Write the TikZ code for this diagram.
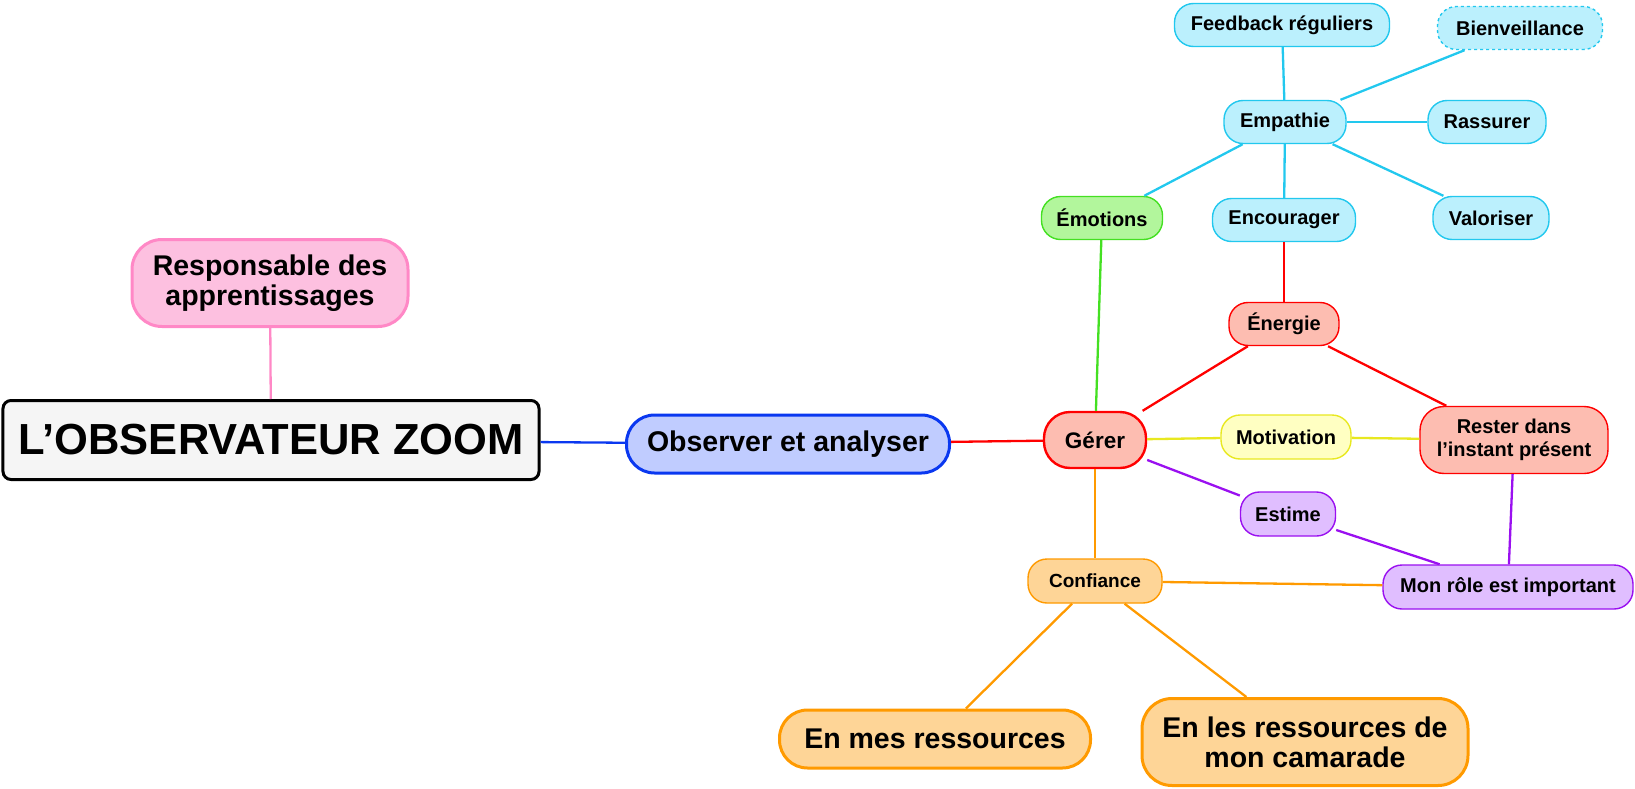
\documentclass[tikz,border=0pt]{standalone}
\usepackage{fontspec}
\setmainfont{Liberation Sans}
\begin{document}
\begin{tikzpicture}[x=1bp,y=-1bp,
  box/.style={draw, rectangle, align=center, inner sep=0pt, font=\bfseries},
  small/.style={box, line width=1.4bp, minimum height=43bp, rounded corners=19bp,
    font=\bfseries\fontsize{20bp}{23bp}\selectfont},
  big/.style={box, line width=3bp, font=\bfseries\fontsize{28.5bp}{30bp}\selectfont},
  cyanbox/.style={small, draw=cyanline, fill=cyanfill},
  redbox/.style={fill=redfill, draw=red},
  purplebox/.style={small, draw=purpleline, fill=purplefill},
  orangebox/.style={fill=orangefill, draw=orangeline},
  link/.style={line width=2.3bp}
]
\definecolor{cyanline}{HTML}{22C8EE}
\definecolor{cyanfill}{HTML}{BBF0FD}
\definecolor{redfill}{HTML}{FDBDB1}
\definecolor{purpleline}{HTML}{9A10F0}
\definecolor{purplefill}{HTML}{E0BEFF}
\definecolor{orangeline}{HTML}{FF9A00}
\definecolor{orangefill}{HTML}{FED597}
\definecolor{pinkline}{HTML}{FF88C6}
\definecolor{pinkfill}{HTML}{FDC0E0}
\definecolor{blueline}{HTML}{0A38F0}
\definecolor{bluefill}{HTML}{C0CCFF}
\definecolor{greenline}{HTML}{44E022}
\definecolor{greenfill}{HTML}{B2F69C}
\definecolor{yellowline}{HTML}{E8E820}
\definecolor{yellowfill}{HTML}{FFFFC2}
\definecolor{rootfill}{HTML}{F5F5F5}

\useasboundingbox (0,0) rectangle (1635,789);

% central topic and first level
\node[box, line width=3bp, draw=black, fill=rootfill, rounded corners=8bp,
  minimum width=536bp, minimum height=79bp,
  font=\bfseries\fontsize{43.5bp}{46bp}\selectfont] (root) at (271,440) {L’OBSERVATEUR ZOOM};
\node[big, draw=pinkline, fill=pinkfill, rounded corners=30bp,
  minimum width=276bp, minimum height=87bp] (resp) at (270,283) {Responsable des\\apprentissages};
\node[big, draw=blueline, fill=bluefill, rounded corners=28bp,
  minimum width=323bp, minimum height=58bp] (obs) at (788,444) {Observer et analyser};

% second level
\node[box, redbox, line width=2.4bp, rounded corners=26bp,
  minimum width=102bp, minimum height=56bp,
  font=\bfseries\fontsize{22.5bp}{26bp}\selectfont] (gerer) at (1095,440) {Gérer};
\node[small, draw=greenline, fill=greenfill, minimum width=121bp] (emot) at (1102,218) {Émotions};

% empathy cluster
\node[cyanbox, minimum width=122bp] (emp) at (1285,122) {Empathie};
\node[cyanbox, minimum width=215bp] (feed) at (1282,25) {Feedback réguliers};
\node[cyanbox, dashed, minimum width=165bp] (bien) at (1520,28) {Bienveillance};
\node[cyanbox, minimum width=118bp] (rass) at (1487,122) {Rassurer};
\node[cyanbox, minimum width=143bp] (enc) at (1284,220) {Encourager};
\node[cyanbox, minimum width=116bp] (valo) at (1491,218) {Valoriser};

% energy, motivation, esteem
\node[small, redbox, minimum width=110bp] (ener) at (1284,324) {Énergie};
\node[small, draw=yellowline, fill=yellowfill, minimum width=130bp, minimum height=44bp] (moti) at (1286,437) {Motivation};
\node[small, redbox, minimum width=188bp, minimum height=67bp, rounded corners=24bp] (rester) at (1514,440) {Rester dans\\l’instant présent};
\node[purplebox, minimum width=95bp, minimum height=44bp] (estime) at (1288,514) {Estime};
\node[purplebox, minimum width=250bp, minimum height=44bp] (role) at (1508,587) {Mon rôle est important};

% confidence cluster
\node[small, orangebox, minimum width=134bp, minimum height=44bp,
  font=\bfseries\fontsize{19bp}{22bp}\selectfont] (conf) at (1095,581) {Confiance};
\node[big, orangebox, rounded corners=28bp, minimum width=311bp, minimum height=58bp] (enmes) at (935,739) {En mes ressources};
\node[big, orangebox, rounded corners=30bp, minimum width=326bp, minimum height=87bp] (enles) at (1305,742) {En les ressources de\\mon camarade};

% connectors
\begin{scope}[link]
\draw[pinkline] (resp) -- (root);
\draw[blueline] (root) -- (obs);
\draw[red] (obs) -- (gerer);
\draw[greenline] (gerer) -- (emot);
\draw[cyanline] (emot) -- (emp);
\draw[cyanline] (emp) -- (feed);
\draw[cyanline] (emp) -- (bien);
\draw[cyanline] (emp) -- (rass);
\draw[cyanline] (emp) -- (valo);
\draw[cyanline] (emp) -- (enc);
\draw[red] (enc) -- (ener);
\draw[red] (gerer) -- (ener);
\draw[red] (ener) -- (rester);
\draw[yellowline] (gerer) -- (moti);
\draw[yellowline] (moti) -- (rester);
\draw[purpleline] (gerer) -- (estime);
\draw[purpleline] (estime) -- (role);
\draw[purpleline] (rester) -- (role);
\draw[orangeline] (gerer) -- (conf);
\draw[orangeline] (conf) -- (role);
\draw[orangeline] (conf) -- (enmes);
\draw[orangeline] (conf) -- (enles);
\end{scope}
\end{tikzpicture}
\end{document}
